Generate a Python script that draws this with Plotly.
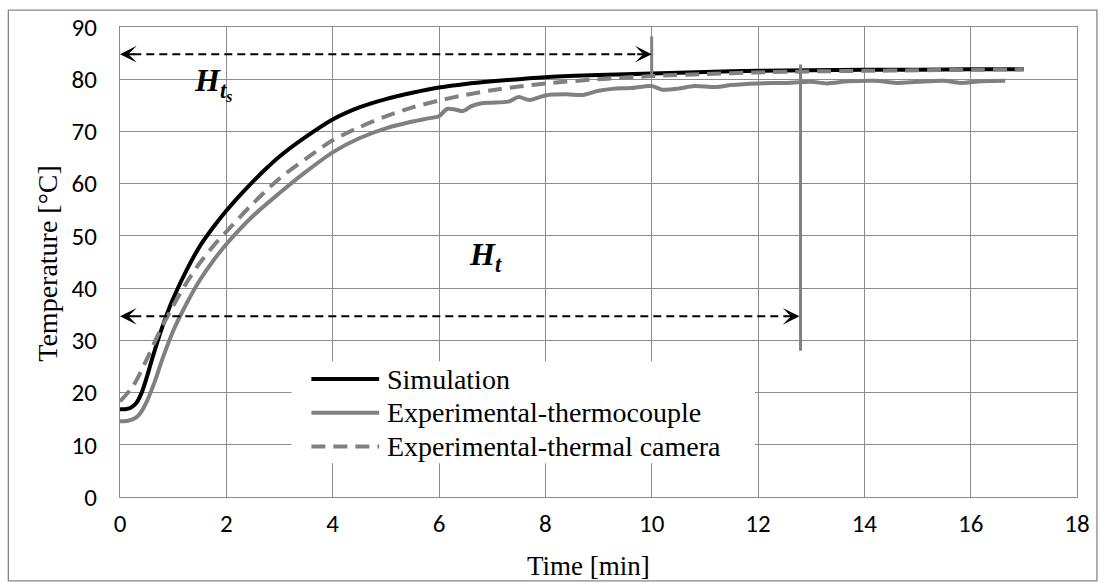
import plotly.graph_objects as go

# ---------------- data ----------------
sim_t = [0, 0.1, 0.2, 0.3, 0.4, 0.5, 0.6, 0.75, 0.9, 1.0, 1.25, 1.5, 1.75, 2.0, 2.25, 2.5, 2.75,
         3.0, 3.5, 4.0, 4.5, 5.0, 5.5, 6.0, 6.5, 7.0, 8.0, 9.0, 10.0, 11.0, 12.0, 13.0,
         14.0, 15.0, 16.0, 17.0]
sim_T = [16.8, 16.8, 17.1, 17.9, 19.8, 22.8, 26.3, 31.2, 35.5, 38.0, 43.4, 48.0, 51.6, 54.8, 57.7, 60.4, 62.9,
         65.2, 69.0, 72.3, 74.6, 76.2, 77.4, 78.4, 79.1, 79.6, 80.4, 80.8, 81.1, 81.4, 81.6, 81.7,
         81.8, 81.8, 81.9, 81.9]

tc_t = [0, 0.15, 0.3, 0.4, 0.5, 0.65, 0.8, 1.0, 1.25, 1.5, 1.75, 2.0, 2.5, 3.0, 3.5, 4.0, 4.5,
        5.0, 5.5, 5.8, 6.0, 6.15, 6.3, 6.45, 6.6, 6.8, 7.0, 7.3, 7.5, 7.7, 8.0, 8.4, 8.7,
        9.0, 9.3, 9.6, 10.0, 10.2, 10.5, 10.8, 11.2, 11.5, 12.0, 12.5, 13.0, 13.3, 13.7,
        14.2, 14.6, 15.0, 15.5, 15.8, 16.2, 16.65]
tc_T = [14.5, 14.6, 15.2, 16.3, 18.2, 22.0, 26.5, 31.8, 37.0, 41.5, 45.2, 48.4, 53.8, 58.2, 62.3, 66.0, 68.7,
        70.6, 71.9, 72.5, 72.9, 74.3, 74.2, 73.9, 74.8, 75.4, 75.5, 75.7, 76.6, 76.0, 76.9, 77.1, 77.0,
        77.8, 78.2, 78.3, 78.7, 78.0, 78.2, 78.7, 78.5, 78.9, 79.2, 79.3, 79.5, 79.2, 79.6,
        79.7, 79.3, 79.5, 79.7, 79.3, 79.6, 79.7]

cam_t = [0, 0.25, 0.5, 0.75, 1.0, 1.25, 1.5, 1.75, 2.0, 2.5, 3.0, 3.5, 4.0, 4.5, 5.0, 5.5,
         6.0, 6.5, 7.0, 7.5, 8.0, 9.0, 10.0, 11.0, 12.0, 13.0, 14.0, 15.0, 16.0, 17.0]
cam_T = [18.3, 21.3, 26.3, 31.8, 36.6, 41.0, 44.8, 48.0, 50.8, 56.2, 61.0, 64.8, 68.3, 70.8, 72.9, 74.6,
         75.9, 77.0, 77.9, 78.6, 79.2, 80.0, 80.6, 81.0, 81.3, 81.5, 81.6, 81.7, 81.8, 81.9]

series_names = ["Simulation", "Experimental-thermocouple", "Experimental-thermal camera"]

x_ticks = [0, 2, 4, 6, 8, 10, 12, 14, 16, 18]
y_ticks = [0, 10, 20, 30, 40, 50, 60, 70, 80, 90]

# annotation markers (time, temperature)
hts_arrow = [0.0, 10.0, 84.8]      # x_start, x_end, y
ht_arrow = [0.0, 12.78, 34.6]
hts_vline = [10.0, 80.8, 88.2]     # x, y0, y1
ht_vline = [12.8, 28.0, 82.8]
hts_label = [1.36, 79.1]
ht_label = [6.53, 46.0]

GRID = "#8c8c8c"
GRAY = "#808080"
SERIF = "Liberation Serif, Times New Roman, serif"
NARROW = "Carlito, Liberation Sans Narrow, DejaVu Sans Condensed, Arial Narrow, sans-serif"

# plot-area geometry helpers (pixels -> paper)
L, R, T, B, W, H = 120, 22, 23, 86, 1102, 583
PW, PH = W - L - R, H - T - B
def px(xp):
    return (xp - L) / PW
def py(yp):
    return (H - B - yp) / PH

styles = [dict(color="black", width=4),
          dict(color=GRAY, width=4),
          dict(color=GRAY, width=4, dash="14px,8px")]

fig = go.Figure()
for name, xs, ys, st in zip(series_names, (sim_t, tc_t, cam_t), (sim_T, tc_T, cam_T), styles):
    fig.add_trace(go.Scatter(x=xs, y=ys, mode="lines", name=name, showlegend=False,
                             line=dict(shape="spline", smoothing=0.8, **st)))

shapes = []
for arr in (hts_arrow, ht_arrow):
    shapes.append(dict(type="line", xref="x", yref="y", x0=arr[0] + 0.25, x1=arr[1] - 0.25,
                       y0=arr[2], y1=arr[2], line=dict(color="black", width=2, dash="8px,5px")))
for v in (hts_vline, ht_vline):
    shapes.append(dict(type="line", xref="x", yref="y", x0=v[0], x1=v[0], y0=v[1], y1=v[2],
                       line=dict(color=GRAY, width=3)))
shapes.append(dict(type="rect", xref="paper", yref="paper",
                   x0=px(8), x1=px(1100), y0=py(581.5), y1=py(6),
                   line=dict(color="#868686", width=1.3), layer="below"))

# legend (white box, sample lines, labels)
leg_rows = [378, 412, 446]
shapes.append(dict(type="rect", xref="paper", yref="paper", x0=px(292), x1=px(757),
                   y0=py(463), y1=py(360), fillcolor="white", line=dict(width=0), layer="above"))
annotations = []
for name, st, yr in zip(series_names, styles, leg_rows):
    shapes.append(dict(type="line", xref="paper", yref="paper", x0=px(312), x1=px(380),
                       y0=py(yr), y1=py(yr), line=st, layer="above"))
    annotations.append(dict(x=px(386), y=py(yr), xref="paper", yref="paper", xanchor="left",
                            yanchor="middle", showarrow=False, text=name,
                            font=dict(family=SERIF, size=28, color="black")))

for arr in (hts_arrow, ht_arrow):
    annotations.append(dict(x=arr[0], y=arr[2], ax=arr[0] + 0.3, ay=arr[2], xref="x", yref="y",
                            axref="x", ayref="y", text="", showarrow=True, arrowhead=3,
                            arrowsize=1.4, arrowwidth=2, arrowcolor="black"))
    annotations.append(dict(x=arr[1], y=arr[2], ax=arr[1] - 0.3, ay=arr[2], xref="x", yref="y",
                            axref="x", ayref="y", text="", showarrow=True, arrowhead=3,
                            arrowsize=1.4, arrowwidth=2, arrowcolor="black"))

annotations.append(dict(x=hts_label[0], y=hts_label[1], xref="x", yref="y", xanchor="left",
                        yanchor="middle", showarrow=False,
                        text="<b><i>H</i></b><sub><b><i>t<sub>s</sub></i></b></sub>",
                        font=dict(family=SERIF, size=32, color="black")))
annotations.append(dict(x=ht_label[0], y=ht_label[1], xref="x", yref="y", xanchor="left",
                        yanchor="middle", showarrow=False,
                        text="<b><i>H</i></b><sub><b><i>t</i></b></sub>",
                        font=dict(family=SERIF, size=32, color="black")))
annotations.append(dict(x=px(590), y=py(567), xref="paper", yref="paper",
                        xanchor="center", yanchor="middle", showarrow=False, text="Time [min]",
                        font=dict(family=SERIF, size=27, color="black")))
annotations.append(dict(x=px(47), y=py(261.5), xref="paper", yref="paper",
                        xanchor="center", yanchor="middle", showarrow=False, textangle=-90,
                        text="Temperature [°C]", font=dict(family=SERIF, size=28, color="black")))

fig.update_layout(
    width=W, height=H,
    margin=dict(l=L, r=R, t=T, b=B),
    paper_bgcolor="white", plot_bgcolor="white",
    showlegend=False,
    shapes=shapes,
    annotations=annotations,
)
fig.update_xaxes(range=[0, 18], tickvals=x_ticks, ticktext=[str(v) for v in x_ticks],
                 showgrid=True, gridcolor=GRID, gridwidth=1.3, zeroline=False,
                 showline=True, linecolor=GRID, linewidth=1.3, mirror=True, ticks="",
                 ticklabelstandoff=4,
                 tickfont=dict(family=NARROW, size=25, color="black"))
fig.update_yaxes(range=[0, 90], tickvals=y_ticks, ticktext=[str(v) for v in y_ticks],
                 showgrid=True, gridcolor=GRID, gridwidth=1.3, zeroline=False,
                 showline=True, linecolor=GRID, linewidth=1.3, mirror=True, ticks="",
                 ticklabelstandoff=17,
                 tickfont=dict(family=NARROW, size=25, color="black"))

fig.write_html("out.html")
